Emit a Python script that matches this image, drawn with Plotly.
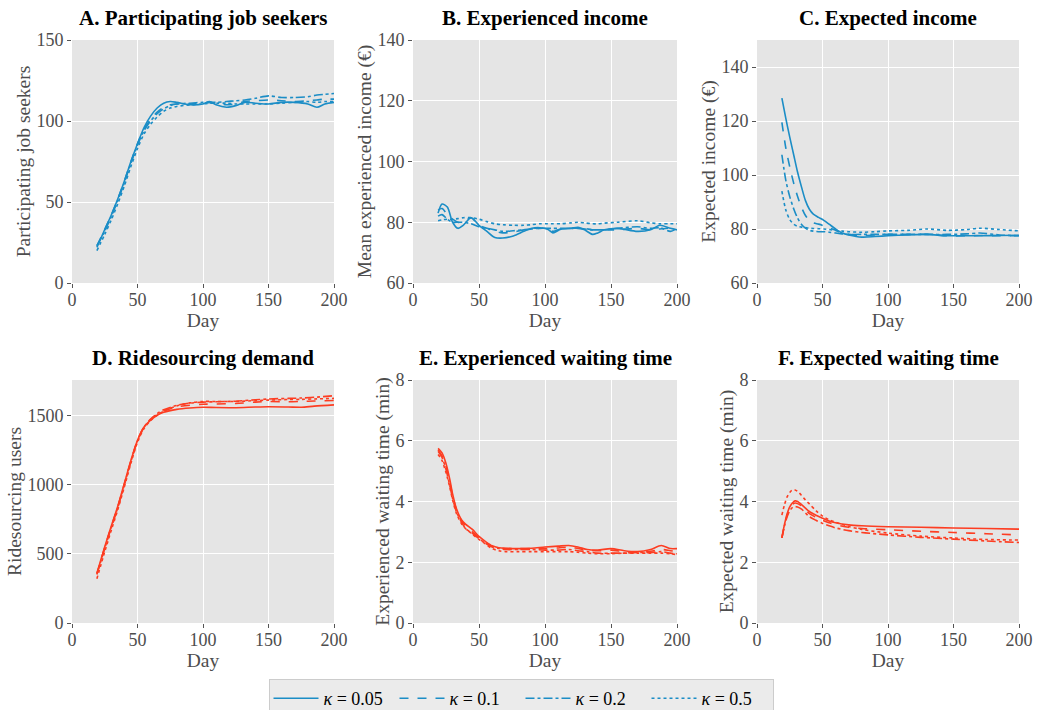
import plotly.graph_objects as go

# ---------------- data ----------------
KAPPAS = ["0.05", "0.1", "0.2", "0.5"]
DASHES = ["solid", "dash", "dashdot", "dot"]

# A. Participating job seekers
days_a = [19, 25, 30, 35, 40, 45, 50, 55, 60, 65, 70, 75, 80, 90, 100, 105, 110, 118,
          125, 132, 140, 150, 160, 170, 180, 187, 193, 200]
seekers_k005 = [22, 33, 42, 52, 63, 75, 86, 96, 103, 108, 111, 112, 111.5, 110, 110.5, 112, 110,
                108.5, 109.5, 111.5, 111, 110.5, 111.5, 111.5, 110.5, 108.5, 110.5, 111.5]
seekers_k01 = [23, 33, 42, 52, 63, 75, 86, 95, 101, 105.5, 108.5, 110, 110.5, 110.5, 111, 111.5, 111,
               110, 110.5, 112, 112.5, 113, 112.5, 112, 112.5, 113, 113.5, 113.5]
seekers_k02 = [23, 32, 41, 51, 62, 74, 85, 94, 100, 104.5, 107.5, 109.5, 110.5, 111, 111.5, 111.5, 111.5,
               112, 112.5, 113, 114, 115.5, 114.5, 114.5, 115, 116, 116.5, 117]
seekers_k05 = [20, 30, 39, 49, 60, 72, 83, 92, 98, 102.5, 106, 108, 109, 110, 110.5, 111, 111,
               111, 110.5, 110.5, 110.5, 110.5, 111, 111.5, 112, 111.5, 112, 112]

# B. Experienced income
days_b = [19, 22, 26, 30, 34, 38, 44, 50, 56, 62, 68, 76, 84, 90, 96, 102, 106, 112, 120, 125,
          130, 136, 140, 145, 155, 170, 180, 187, 195, 200]
exp_income_k005 = [83, 86, 85, 80, 78, 79, 81.5, 79, 77, 75, 74.8, 75.5, 77, 78, 78.2, 77.7, 76.5,
                   77.7, 78, 78.3, 77.5, 76, 76.5, 77.5, 78, 77, 77.5, 79, 78, 77.5]
exp_income_k01 = [84, 84.5, 82.5, 81, 80, 80, 81.5, 79, 78, 77, 76.5, 76.8, 77.5, 78, 78, 78, 77,
                  77.8, 78, 78, 78, 77.5, 77.5, 77.5, 77.5, 78, 77.5, 77.8, 78, 77.5]
exp_income_k02 = [82, 82.5, 81, 80, 80, 80, 79.5, 78.5, 78, 77.5, 77, 77.2, 77.5, 77.8, 78, 78, 78,
                  78, 78, 78, 77.8, 77.5, 77.5, 77.5, 78, 78.5, 78, 78.2, 77, 78]
exp_income_k05 = [80.5, 80.8, 81, 81, 81.2, 81.5, 81.5, 81, 80.2, 79.5, 79.2, 79, 79, 79.2, 79.5, 79.5, 79.5,
                  79.5, 79.8, 80, 79.8, 79.5, 79.5, 79.7, 80, 80.5, 79.8, 79.5, 79.5, 79.5]

# C. Expected income
days_c = [19, 22, 25, 28, 31, 34, 37, 40, 43, 47, 51, 55, 60, 65, 70, 80, 90, 100, 115, 130, 145,
          160, 170, 185, 200]
expt_income_k005 = [128.5, 121, 114, 107.5, 101, 95.5, 90.5, 87.3, 85.5, 84.3, 83.2, 81.8, 80, 78.5,
                    77.8, 77, 77.2, 77.5, 77.8, 78, 77.5, 77.5, 77.5, 77.6, 77.7]
expt_income_k01 = [119.5, 110, 103, 97, 92, 88, 85, 83.2, 82.3, 81.8, 81.2, 80.5, 79.5, 78.5, 78,
                   77.5, 77.8, 78, 78, 78, 77.5, 77.5, 77.6, 77.5, 77.5]
expt_income_k02 = [107.5, 98, 92, 87.5, 84, 81.7, 80.3, 79.5, 79.2, 79, 79, 78.8, 78.5, 78.2, 78,
                   78, 78, 78, 78, 78, 78, 78.2, 78.5, 77.8, 77.5]
expt_income_k05 = [94, 87, 83.5, 81.8, 81, 80.7, 80.5, 80.3, 80.2, 80.1, 80, 79.8, 79.5, 79.2, 79,
                   78.8, 79, 79.3, 79.5, 80, 79.5, 79.8, 80.3, 79.8, 79.3]

# D. Ridesourcing demand
days_d = [19, 25, 30, 35, 40, 45, 50, 55, 60, 65, 70, 80, 90, 100, 110, 125, 140, 150, 165, 175, 185, 200]
demand_k005 = [360, 550, 700, 845, 1010, 1175, 1320, 1415, 1465, 1500, 1522, 1543, 1553, 1558, 1556,
               1555, 1560, 1562, 1560, 1558, 1566, 1575]
demand_k01 = [355, 545, 695, 840, 1005, 1170, 1318, 1415, 1470, 1507, 1532, 1560, 1573, 1580, 1582,
              1585, 1595, 1600, 1598, 1600, 1603, 1607]
demand_k02 = [350, 540, 690, 835, 1000, 1168, 1315, 1415, 1472, 1512, 1540, 1572, 1588, 1595, 1598,
              1602, 1612, 1618, 1622, 1625, 1630, 1642]
demand_k05 = [320, 515, 670, 820, 985, 1155, 1305, 1405, 1462, 1500, 1530, 1568, 1590, 1600, 1600,
              1600, 1606, 1610, 1614, 1615, 1618, 1622]

# E. Experienced waiting time
days_e = [19, 22, 25, 28, 30, 33, 37, 40, 45, 50, 55, 60, 65, 70, 80, 90, 100, 110, 118, 125, 132,
          140, 150, 160, 170, 180, 188, 195, 200]
exp_wait_k005 = [5.75, 5.6, 5.25, 4.7, 4.25, 3.75, 3.38, 3.25, 3.08, 2.85, 2.68, 2.54, 2.48, 2.46, 2.45,
                 2.46, 2.5, 2.53, 2.55, 2.5, 2.42, 2.4, 2.45, 2.38, 2.35, 2.42, 2.55, 2.45, 2.45]
exp_wait_k01 = [5.7, 5.5, 5.15, 4.6, 4.2, 3.72, 3.35, 3.2, 3.0, 2.8, 2.65, 2.52, 2.47, 2.45, 2.45,
                2.45, 2.45, 2.47, 2.5, 2.45, 2.4, 2.38, 2.4, 2.35, 2.33, 2.36, 2.42, 2.38, 2.35]
exp_wait_k02 = [5.65, 5.45, 5.05, 4.5, 4.1, 3.65, 3.3, 3.1, 2.95, 2.78, 2.62, 2.5, 2.45, 2.42, 2.42,
                2.42, 2.4, 2.4, 2.42, 2.38, 2.35, 2.3, 2.3, 2.3, 2.32, 2.32, 2.35, 2.3, 2.28]
exp_wait_k05 = [5.55, 5.35, 4.95, 4.45, 4.05, 3.6, 3.25, 3.1, 2.92, 2.75, 2.6, 2.45, 2.38, 2.35, 2.35,
                2.35, 2.35, 2.35, 2.35, 2.33, 2.3, 2.28, 2.28, 2.3, 2.3, 2.3, 2.3, 2.28, 2.25]

# F. Expected waiting time
days_f = [19, 21, 23, 25, 27, 29, 31, 34, 37, 40, 45, 50, 55, 60, 70, 80, 100, 125, 150, 175, 200]
expt_wait_k005 = [2.8, 3.25, 3.6, 3.82, 3.95, 4.02, 4.0, 3.9, 3.78, 3.67, 3.55, 3.45, 3.36, 3.3, 3.23,
                  3.2, 3.17, 3.15, 3.13, 3.11, 3.09]
expt_wait_k01 = [2.8, 3.22, 3.55, 3.77, 3.9, 3.95, 3.93, 3.85, 3.72, 3.6, 3.48, 3.38, 3.3, 3.24, 3.15,
                 3.11, 3.07, 3.02, 2.98, 2.94, 2.9]
expt_wait_k02 = [2.8, 3.2, 3.5, 3.7, 3.8, 3.83, 3.82, 3.75, 3.62, 3.5, 3.38, 3.28, 3.2, 3.13, 3.04,
                 2.98, 2.9, 2.82, 2.76, 2.7, 2.65]
expt_wait_k05 = [3.55, 3.9, 4.15, 4.3, 4.38, 4.38, 4.33, 4.2, 4.05, 3.92, 3.7, 3.52, 3.4, 3.32, 3.18,
                 3.08, 2.96, 2.86, 2.8, 2.75, 2.73]

BLUE = "#1B8DC6"
RED = "#FD3D22"

panels = [
    dict(title="A. Participating job seekers", ytitle="Participating job seekers",
         days=days_a, series=[seekers_k005, seekers_k01, seekers_k02, seekers_k05],
         color=BLUE, yrange=[0, 150], dtick=50),
    dict(title="B. Experienced income", ytitle="Mean experienced income (€)",
         days=days_b, series=[exp_income_k005, exp_income_k01, exp_income_k02, exp_income_k05],
         color=BLUE, yrange=[60, 140], dtick=20),
    dict(title="C. Expected income", ytitle="Expected income (€)",
         days=days_c, series=[expt_income_k005, expt_income_k01, expt_income_k02, expt_income_k05],
         color=BLUE, yrange=[60, 150], dtick=20),
    dict(title="D. Ridesourcing demand", ytitle="Ridesourcing users",
         days=days_d, series=[demand_k005, demand_k01, demand_k02, demand_k05],
         color=RED, yrange=[0, 1755], dtick=500),
    dict(title="E. Experienced waiting time", ytitle="Experienced waiting time (min)",
         days=days_e, series=[exp_wait_k005, exp_wait_k01, exp_wait_k02, exp_wait_k05],
         color=RED, yrange=[0, 8], dtick=2),
    dict(title="F. Expected waiting time", ytitle="Expected waiting time (min)",
         days=days_f, series=[expt_wait_k005, expt_wait_k01, expt_wait_k02, expt_wait_k05],
         color=RED, yrange=[0, 8], dtick=2),
]

# ---------------- layout geometry (pixels) ----------------
W, H = 1041, 710
col_px = [(72, 334), (413, 677), (757, 1019)]
row_px = [(40, 283), (380, 623)]
title_center_px = [18, 358]

FONT = "Liberation Serif"
TICK_COLOR = "#4D4D4D"

fig = go.Figure()
layout = dict(
    width=W, height=H,
    margin=dict(l=0, r=0, t=0, b=0, autoexpand=False),
    paper_bgcolor="white",
    plot_bgcolor="#E5E5E5",
    font=dict(family=FONT, size=18, color=TICK_COLOR),
    showlegend=True,
    annotations=[],
)

for i, p in enumerate(panels):
    r, c = divmod(i, 3)
    x0, x1 = col_px[c]
    y0, y1 = row_px[r]
    n = i + 1
    xa = "x" if n == 1 else f"x{n}"
    ya = "y" if n == 1 else f"y{n}"
    for k, (vals, dash) in enumerate(zip(p["series"], DASHES)):
        fig.add_trace(go.Scatter(
            x=p["days"], y=vals, mode="lines",
            line=dict(color=p["color"], width=1.6, dash=dash,
                      shape="spline", smoothing=0.8),
            name=f"<i>κ</i> = {KAPPAS[k]}",
            legendgroup=KAPPAS[k],
            showlegend=(i == 0),
            xaxis=xa, yaxis=ya,
        ))
    axis_common = dict(
        showgrid=True, gridcolor="white", gridwidth=1.2,
        zeroline=False, showline=False,
        ticks="outside", ticklen=4, tickwidth=1, tickcolor="#555555",
        tickfont=dict(family=FONT, size=18, color=TICK_COLOR),
    )
    layout["xaxis" if n == 1 else f"xaxis{n}"] = dict(
        axis_common, domain=[x0 / W, x1 / W], range=[0, 200], dtick=50,
        anchor=ya, ticklabelstandoff=-4,
        title=dict(text="Day", font=dict(family=FONT, size=19.5, color=TICK_COLOR), standoff=0),
    )
    layout["yaxis" if n == 1 else f"yaxis{n}"] = dict(
        axis_common, domain=[1 - y1 / H, 1 - y0 / H], range=p["yrange"], dtick=p["dtick"],
        anchor=xa,
        title=dict(text=p["ytitle"], font=dict(family=FONT, size=19.5, color=TICK_COLOR), standoff=0),
    )
    layout["annotations"].append(dict(
        text=f"<b>{p['title']}</b>", x=(x0 + x1) / 2 / W, y=1 - title_center_px[r] / H,
        xref="paper", yref="paper", xanchor="center", yanchor="middle", showarrow=False,
        font=dict(family=FONT, size=21, color="black"),
    ))

layout["legend"] = dict(
    orientation="h", x=521 / W, xanchor="center", y=1 - 679 / H, yanchor="top",
    bgcolor="#EBEBEB", bordercolor="#CCCCCC", borderwidth=1,
    font=dict(family=FONT, size=18, color="black"),
    entrywidth=66, itemwidth=45,
)

fig.update_layout(**layout)
fig.write_html("out.html")
